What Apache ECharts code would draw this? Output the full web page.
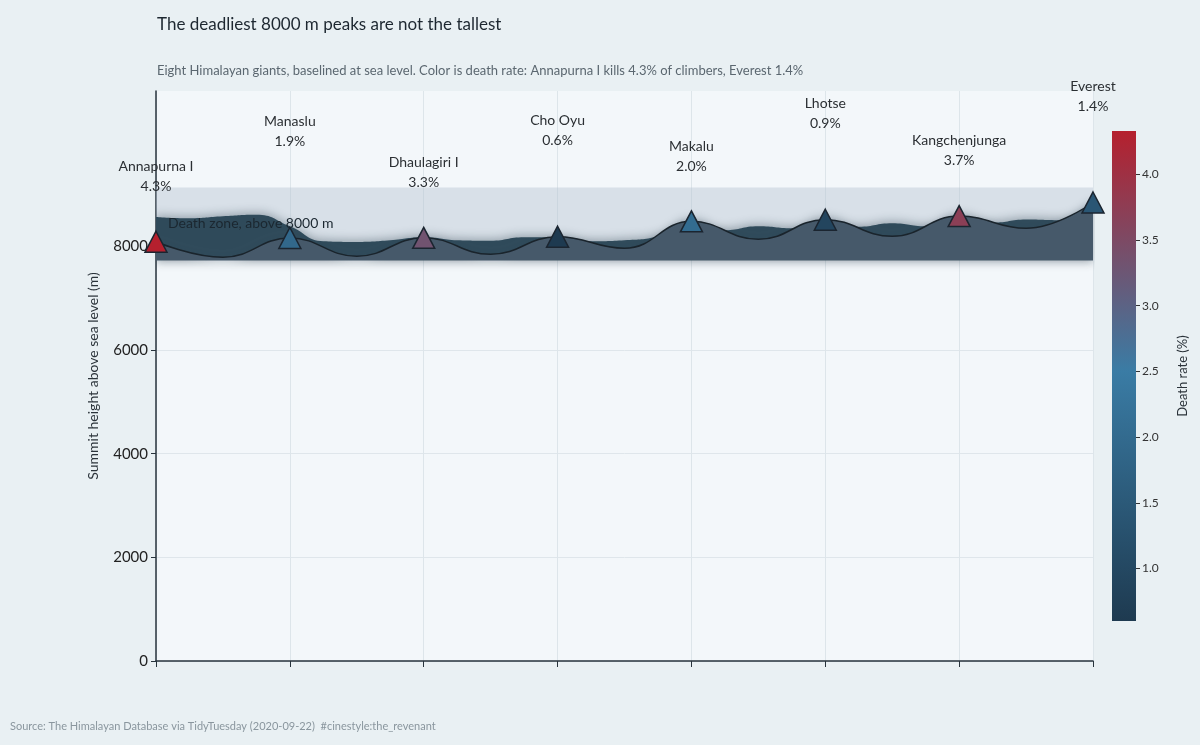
<!DOCTYPE html>
<html>
<head>
<meta charset="utf-8">
<title>Deadliest 8000 m peaks</title>
<script src="https://cdn.jsdelivr.net/npm/echarts@6/dist/echarts.min.js"></script>
<style>
  html, body { margin: 0; padding: 0; background: #e9f0f3; }
  #chart { width: 1200px; height: 745px; }
</style>
</head>
<body>
<div id="chart"></div>
<script>
// peaks, west to east as plotted
const peaks = ['Annapurna I', 'Manaslu', 'Dhaulagiri I', 'Cho Oyu', 'Makalu', 'Lhotse', 'Kangchenjunga', 'Everest'];
const heights = [8091, 8163, 8167, 8188, 8485, 8516, 8586, 8848];
const deathRates = [4.33, 1.9, 3.3, 0.6, 2.0, 0.9, 3.7, 1.4];
// saddles between neighbouring peaks (front ridge line)
const valleys = [7792, 7811, 7849, 7965, 8139, 8196, 8351];
// back ridge, read every quarter step along the range
const backRidge = [8569, 8544, 8582, 8611, 8389, 8100, 8087, 8119, 8177, 8119, 8110, 8177, 8177, 8100, 8119, 8196,
  8486, 8312, 8389, 8351, 8524, 8380, 8447, 8389, 8582, 8457, 8518, 8505, 8852];
const deathZone = [7735, 9140];
const ridgeBase = 7735;
const heightTicks = [0, 2000, 4000, 6000, 8000];
const rateTicks = [1.0, 1.5, 2.0, 2.5, 3.0, 3.5, 4.0];
const rateRange = [0.6, 4.33];
const rateColors = ['#1e3a50', '#3a7ca5', '#b5202e'];

const font = 'Lato, "Noto Sans", sans-serif';

// front line: peak, saddle, peak ...
const frontLine = [];
heights.forEach((h, i) => {
  frontLine.push([i, h]);
  if (i < valleys.length) frontLine.push([i + 0.5, valleys[i]]);
});
const backLine = backRidge.map((v, i) => [i * 0.25, v]);

const peakData = peaks.map((p, i) => ({
  name: p,
  value: [i, heights[i], deathRates[i]],
  label: { distance: i % 2 ? 75 : 34 }
}));

const chart = echarts.init(document.getElementById('chart'));

// colour bar box (matches grid 1)
const barTop = 131, barHeight = 490;

const option = {
  backgroundColor: '#e9f0f3',
  textStyle: { fontFamily: font },
  animation: false,
  title: [
    { text: 'The deadliest 8000 m peaks are not the tallest', left: 152, top: 11,
      textStyle: { fontFamily: font, fontSize: 17, fontWeight: 'normal', color: '#1d2730' } },
    { text: 'Eight Himalayan giants, baselined at sea level. Color is death rate: Annapurna I kills 4.3% of climbers, Everest 1.4%',
      left: 152, top: 59, textStyle: { fontFamily: font, fontSize: 13, fontWeight: 'normal', color: '#5b6770' } },
    { text: 'Source: The Himalayan Database via TidyTuesday (2020-09-22)  #cinestyle:the_revenant',
      left: 5, top: 716, textStyle: { fontFamily: font, fontSize: 11, fontWeight: 'normal', color: '#8a969e' } }
  ],
  grid: [
    { left: 156, right: 107, top: 91, bottom: 84, show: true, backgroundColor: '#f3f7fa', borderWidth: 0 },
    { left: 1112, width: 24, top: barTop, height: barHeight, show: false }
  ],
  visualMap: {
    show: false,
    type: 'continuous',
    min: rateRange[0],
    max: rateRange[1],
    dimension: 2,
    seriesIndex: 5,
    inRange: { color: rateColors }
  },
  xAxis: [
    {
      type: 'value', min: 0, max: peaks.length - 1, interval: 1,
      axisLine: { show: true, lineStyle: { color: '#27333c', width: 1.5 } },
      axisTick: { show: true, length: 6, lineStyle: { color: '#27333c' } },
      axisLabel: { show: false },
      splitLine: { show: true, lineStyle: { color: '#dde5ea' } }
    },
    { gridIndex: 1, type: 'category', data: [''], show: false }
  ],
  yAxis: [
    {
      type: 'value', min: 0, max: 11000, interval: 2000,
      name: 'Summit height above sea level (m)',
      nameLocation: 'middle', nameGap: 56,
      nameTextStyle: { fontFamily: font, fontSize: 14, color: '#2b333a' },
      axisLine: { show: true, lineStyle: { color: '#27333c', width: 1.5 } },
      axisTick: { show: true, length: 5, customValues: heightTicks, lineStyle: { color: '#27333c' } },
      axisLabel: { customValues: heightTicks, formatter: v => String(v), fontSize: 15, color: '#222', margin: 8 },
      splitLine: { show: true, lineStyle: { color: '#dfe6eb' } }
    },
    {
      gridIndex: 1, type: 'value', min: rateRange[0], max: rateRange[1], position: 'right',
      name: 'Death rate (%)', nameLocation: 'middle', nameGap: 40, nameRotate: 90,
      nameTextStyle: { fontFamily: font, fontSize: 13, color: '#2b333a' },
      axisLine: { show: false },
      axisTick: { show: true, length: 4, inside: false, customValues: rateTicks, lineStyle: { color: '#333' } },
      axisLabel: { customValues: rateTicks, formatter: v => v.toFixed(1), fontSize: 12, color: '#333', margin: 6 },
      splitLine: { show: false }
    }
  ],
  series: [
    {
      // death zone band
      type: 'line', data: [], z: 1,
      markArea: {
        silent: true, z: 1,
        itemStyle: { color: 'rgba(178,194,207,0.42)' },
        data: [[{ yAxis: deathZone[0] }, { yAxis: deathZone[1] }]]
      }
    },
    {
      name: 'back ridge', type: 'line', data: backLine, smooth: 0.5, showSymbol: false, z: 2,
      lineStyle: { width: 0 },
      areaStyle: { origin: ridgeBase, color: '#2f4a5a', opacity: 1,
        shadowBlur: 10, shadowColor: 'rgba(25,45,60,0.35)', shadowOffsetY: -2 }
    },
    {
      name: 'front ridge', type: 'line', data: frontLine, smooth: 0.45, showSymbol: false, z: 3,
      lineStyle: { width: 1.5, color: '#1a242c' },
      areaStyle: { origin: ridgeBase, color: '#46596a', opacity: 1,
        shadowBlur: 8, shadowColor: 'rgba(40,60,75,0.25)', shadowOffsetY: 3 }
    },
    {
      // death zone label, drawn over the ridge
      type: 'line', data: [], z: 6,
      markArea: {
        silent: true, z: 6,
        itemStyle: { color: 'rgba(0,0,0,0)' },
        label: { show: true, position: 'insideLeft', distance: 12, fontSize: 14, color: '#1b2730', fontFamily: font },
        data: [[{ name: 'Death zone, above 8000 m', yAxis: deathZone[0] }, { yAxis: deathZone[1] }]]
      }
    },
    {
      // colour bar
      type: 'bar', xAxisIndex: 1, yAxisIndex: 1, data: [rateRange[1]], barWidth: '100%', silent: true,
      itemStyle: {
        color: new echarts.graphic.LinearGradient(0, barTop, 0, barTop + barHeight, [
          { offset: 0, color: rateColors[2] },
          { offset: 0.49, color: rateColors[1] },
          { offset: 1, color: rateColors[0] }
        ], true)
      }
    },
    {
      name: 'peaks', type: 'scatter', data: peakData, z: 10,
      symbol: 'triangle', symbolSize: [22, 21],
      itemStyle: { borderColor: '#1b2530', borderWidth: 1.5, opacity: 1 },
      label: {
        show: true, position: 'top',
        formatter: p => p.name + '\n' + p.value[2].toFixed(1) + '%',
        fontSize: 14, lineHeight: 20, color: '#2b2f33', fontFamily: font
      }
    }
  ]
};

chart.setOption(option);
</script>
</body>
</html>
